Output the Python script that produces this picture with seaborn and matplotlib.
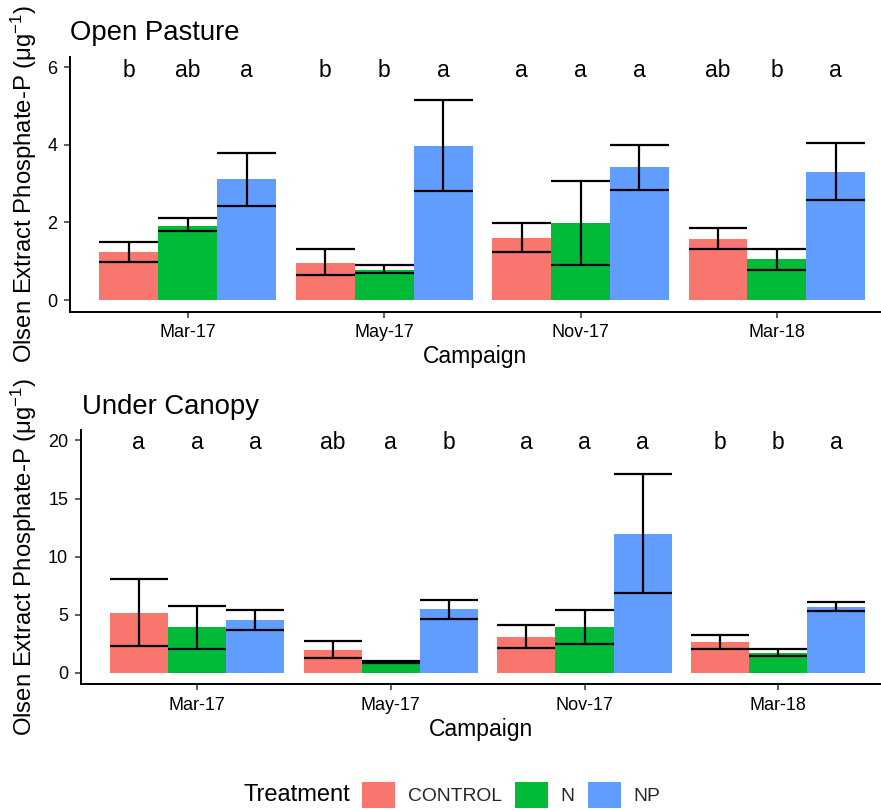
import matplotlib
matplotlib.use("Agg")
import matplotlib.pyplot as plt
from matplotlib.patches import Patch
import seaborn as sns
import pandas as pd

campaigns = ["Mar-17", "May-17", "Nov-17", "Mar-18"]
treatments = ["CONTROL", "N", "NP"]
colors = ["#F8766D", "#00BA38", "#619CFF"]

# Open Pasture (per treatment, per campaign)
op_mean = [[1.23, 0.95, 1.61, 1.58],
           [1.92, 0.78, 1.98, 1.05],
           [3.12, 3.98, 3.43, 3.31]]
op_lo = [[0.99, 0.64, 1.23, 1.31],
         [1.77, 0.70, 0.90, 0.78],
         [2.43, 2.82, 2.84, 2.58]]
op_hi = [[1.49, 1.31, 1.98, 1.86],
         [2.12, 0.89, 3.07, 1.32],
         [3.80, 5.14, 4.00, 4.05]]
op_letters = [["b", "b", "a", "ab"],
              ["ab", "b", "a", "b"],
              ["a", "a", "a", "a"]]

# Under Canopy
uc_mean = [[5.14, 1.98, 3.07, 2.64],
           [3.90, 0.90, 3.93, 1.72],
           [4.53, 5.45, 11.94, 5.65]]
uc_lo = [[2.32, 1.29, 2.09, 2.07],
         [2.07, 0.86, 2.47, 1.46],
         [3.70, 4.65, 6.83, 5.34]]
uc_hi = [[8.03, 2.75, 4.13, 3.24],
         [5.77, 1.00, 5.42, 2.07],
         [5.37, 6.26, 17.10, 6.08]]
uc_letters = [["a", "ab", "a", "b"],
              ["a", "a", "a", "b"],
              ["a", "b", "a", "a"]]


def long_df(mean):
    rows = []
    for ti, t in enumerate(treatments):
        for ci, c in enumerate(campaigns):
            rows.append({"Campaign": c, "Treatment": t, "value": mean[ti][ci]})
    return pd.DataFrame(rows)


sns.set_theme(style="ticks")
plt.rcParams["font.family"] = ["Liberation Sans", "DejaVu Sans"]
plt.rcParams["mathtext.default"] = "regular"

W, H = 881, 810
fig = plt.figure(figsize=(W / 100, H / 100), dpi=100)


def px_axes(left, top, right, bottom):
    return fig.add_axes([left / W, 1 - bottom / H, (right - left) / W, (bottom - top) / H])


ax1 = px_axes(70, 57, 881, 311.7)
ax2 = px_axes(80.7, 430, 881, 684)


def draw(ax, mean, lo, hi, letters, ylim, yticks, letter_y, title, title_xy, ylab_y):
    df = long_df(mean)
    sns.barplot(data=df, x="Campaign", y="value", hue="Treatment", order=campaigns,
                hue_order=treatments, palette=colors, saturation=1, width=0.9,
                errorbar=None, linewidth=0, legend=False, ax=ax)
    for ti, cont in enumerate(ax.containers):
        for ci, bar in enumerate(cont):
            x0 = bar.get_x()
            x1 = x0 + bar.get_width()
            xc = (x0 + x1) / 2
            ax.vlines(xc, lo[ti][ci], hi[ti][ci], color="black", lw=1.6, zorder=3)
            ax.hlines([lo[ti][ci], hi[ti][ci]], x0, x1, color="black", lw=1.6, zorder=3)
            ax.text(xc, letter_y, letters[ti][ci], ha="center", va="baseline",
                    fontsize=16.5, color="black")
    ax.set_ylim(*ylim)
    ax.set_xlim(-0.6, 3.53)
    ax.set_yticks(yticks)
    ax.set_xlabel("Campaign", fontsize=16.5, color="black", labelpad=3)
    ax.set_ylabel("")
    for s in ["top", "right"]:
        ax.spines[s].set_visible(False)
    for s in ["left", "bottom"]:
        ax.spines[s].set_linewidth(1.4)
        ax.spines[s].set_color("black")
    ax.tick_params(axis="both", labelsize=13, colors="#333333", labelcolor="black",
                   length=4, width=1.1, pad=5)
    fig.text(title_xy[0] / W, 1 - title_xy[1] / H, title, fontsize=19.8,
             ha="left", va="baseline", color="black")
    fig.text(24 / W, 1 - ylab_y / H, "Olsen Extract Phosphate-P (μg$^{-1}$)",
             rotation=90, ha="center", va="center", fontsize=17.2, color="black")


draw(ax1, op_mean, op_lo, op_hi, op_letters, (-0.30, 6.26), [0, 2, 4, 6], 5.75,
     "Open Pasture", (70.5, 40.5), 184)
draw(ax2, uc_mean, uc_lo, uc_hi, uc_letters, (-0.97, 20.9), [0, 5, 10, 15, 20], 19.23,
     "Under Canopy", (81.5, 413.5), 557)

fig.text(243 / W, 1 - 795 / H, "Treatment", fontsize=17, ha="left", va="center",
         color="black")
handles = [Patch(facecolor=c, edgecolor="none", label=t) for c, t in zip(colors, treatments)]
fig.legend(handles=handles, ncol=3, loc="center left", bbox_to_anchor=(362 / W, 1 - 795 / H),
           frameon=False, fontsize=13.9, handlelength=1.71, handleheight=1.71,
           handletextpad=0.67, columnspacing=0.67, borderaxespad=0, borderpad=0)

fig.savefig("out.png", dpi=100)
